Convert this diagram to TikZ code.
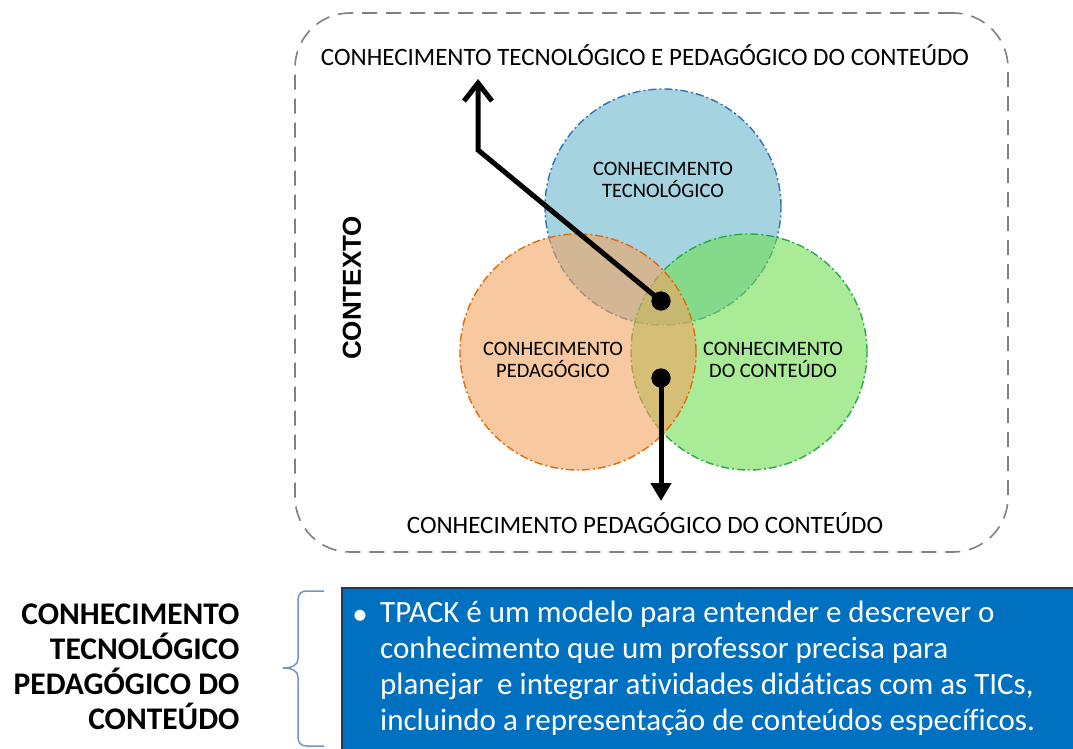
\documentclass[tikz,border=0pt]{standalone}
\usepackage{fontspec}
\setmainfont{Carlito}[Ligatures=NoCommon]
\newfontfamily\arialfont{Liberation Sans}
\usetikzlibrary{arrows.meta,positioning}
\definecolor{tecfill}{RGB}{105,182,203}
\definecolor{pedfill}{RGB}{243,163,97}
\definecolor{confill}{RGB}{113,222,83}
\definecolor{tecline}{RGB}{46,117,182}
\definecolor{pedline}{RGB}{226,107,10}
\definecolor{conline}{RGB}{40,170,70}
\definecolor{framegray}{RGB}{128,128,128}
\definecolor{boxblue}{RGB}{0,112,192}
\definecolor{boxedge}{RGB}{32,56,100}
\definecolor{bracecol}{RGB}{110,150,205}

\begin{document}
\begin{tikzpicture}[x=1pt, y=-1pt,
    kcircle/.style={circle, minimum size=236pt, inner sep=0pt, draw, dash pattern=on 8pt off 3pt on 2pt off 3pt, line width=1.4pt, fill opacity=0.6},
    klabel/.style={align=center, font=\fontsize{20.5}{22}\selectfont},
    kdot/.style={circle, fill=black, minimum size=19pt, inner sep=0pt},
    arrowline/.style={line width=5pt}]
    \useasboundingbox (0,0) rectangle (1073,749);
    \def\bigtext{\fontsize{25}{30}\selectfont}
    \def\boxtext{\fontsize{31}{36}\selectfont}

    % contexto
    \node(ctx) [draw=framegray, dash pattern=on 15pt off 9pt, line width=1.6pt, rounded corners=55pt, minimum width=713pt, minimum height=539pt] at (651.5,282.5) {};
    \node(contexto) [rotate=90, font=\arialfont\bfseries\fontsize{26}{30}\selectfont] at (352,288) {CONTEXTO};

    % os tres circulos
    \node(tec) [kcircle, draw=tecline, fill=tecfill] at (663,207) {};
    \node(con) [kcircle, draw=conline, fill=confill] at (749,352) {};
    \node(ped) [kcircle, draw=pedline, fill=pedfill] at (578,352) {};

    \node(teclabel) [klabel] at (663,180) {CONHECIMENTO\\TECNOLÓGICO};
    \node(pedlabel) [klabel] at (553,360) {CONHECIMENTO\\PEDAGÓGICO};
    \node(conlabel) [klabel] at (773,360) {CONHECIMENTO\\DO CONTEÚDO};

    \node(tpack) [font=\bigtext] at (645,55) {CONHECIMENTO TECNOLÓGICO E PEDAGÓGICO DO CONTEÚDO};
    \node(pck) [font=\bigtext] at (645,523) {CONHECIMENTO PEDAGÓGICO DO CONTEÚDO};

    % setas
    \coordinate(bend) at (478,150);
    \coordinate(uptip) at (478,79);
    \coordinate(downtip) at (661,501);
    \node(dotA) [kdot] at (661,301) {};
    \node(dotB) [kdot] at (661,378) {};
    \draw[arrowline, -{Straight Barb[length=18pt, width=28pt]}] (dotA.center) -- (bend) -- (uptip);
    \draw[arrowline, -{Triangle[length=18pt, width=20pt]}] (dotB.center) -- (downtip);
    \node[kdot] at (dotA) {};
    \node[kdot] at (dotB) {};

    % definicao
    \node(deftitle) [align=right, anchor=east, font=\bfseries\fontsize{31.5}{35}\selectfont] at (243,667) {CONHECIMENTO\\TECNOLÓGICO\\PEDAGÓGICO DO\\CONTEÚDO};
    \draw[bracecol, line width=1.5pt] (324,591) -- (307,591) .. controls (301,591) and (298,594) .. (298,600) -- (298,659) .. controls (298,665) and (292,668) .. (283,668) .. controls (292,668) and (298,671) .. (298,677) -- (298,737) .. controls (298,743) and (301,746) .. (307,746) -- (324,746);
    \node(defbox) [draw=boxedge, fill=boxblue, line width=2pt, anchor=north west, minimum width=760pt, minimum height=190pt] at (341,587) {};
    \node(bullet) [anchor=base, text=white, font=\boxtext, inner sep=0pt] at (360,624) {\textbullet};
    \node(deftext) [anchor=north west, text=white, align=left, inner sep=0pt, font=\boxtext] at (380,601) {TPACK é um modelo para entender e descrever o\\
    conhecimento que um professor precisa para\\
    planejar\ \ e integrar atividades didáticas com as TICs,\\
    incluindo a representação de conteúdos específicos.};
\end{tikzpicture}
\end{document}
